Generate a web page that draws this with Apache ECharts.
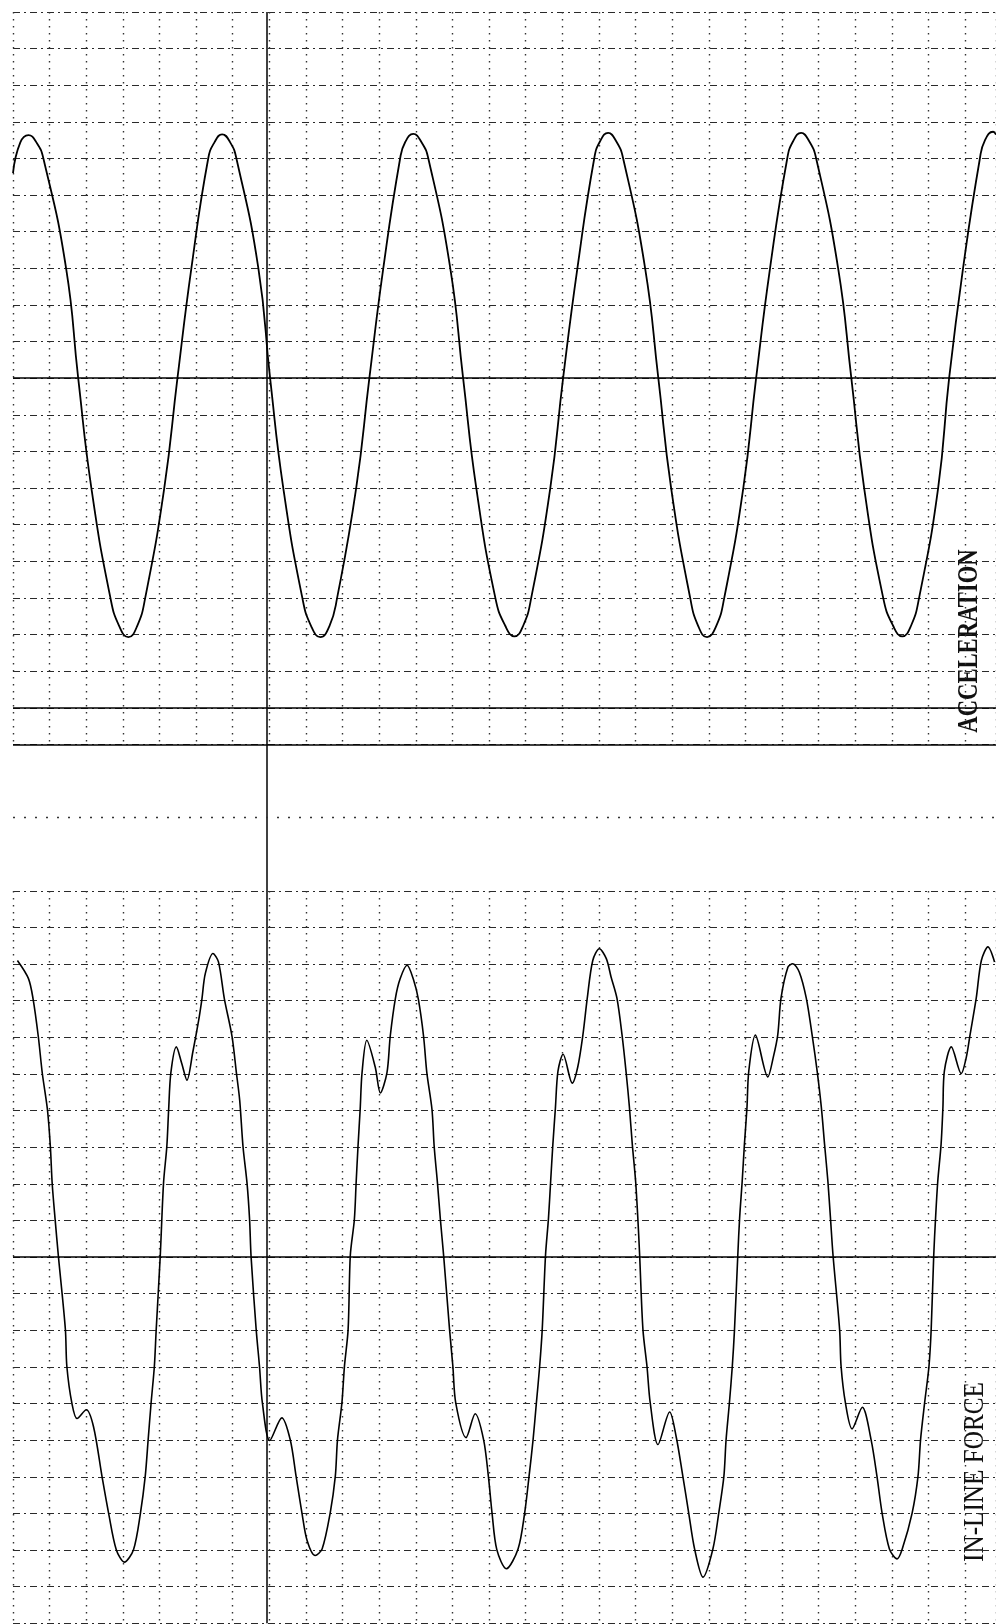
<!DOCTYPE html>
<html>
<head>
<meta charset="utf-8">
<script src="https://cdn.jsdelivr.net/npm/echarts@6/dist/echarts.min.js"></script>
<style>
  html, body { margin: 0; padding: 0; background: #fff; }
  #chart { width: 996px; height: 1624px; }
</style>
</head>
<body>
<div id="chart"></div>
<script>
// units: chart-paper divisions (one grid square)
const accelTime = [0, 0.20, 0.42, 0.64, 0.83, 1.45, 1.78, 2.14, 2.66, 2.90, 3.15, 3.39, 3.61, 4.13, 4.49, 4.87, 5.33, 5.50, 5.71,
  5.93, 6.10, 6.70, 7.02, 7.38, 7.90, 8.14, 8.39, 8.64, 8.85, 9.37, 9.73, 10.11, 10.57, 10.71, 10.93,
  11.15, 11.34, 11.94, 12.29, 12.65, 13.17, 13.44, 13.69, 13.93, 14.15, 14.67, 15.02, 15.41, 15.87, 16.03, 16.25,
  16.47, 16.66, 17.26, 17.62, 17.97, 18.49, 18.71, 18.95, 19.20, 19.42, 19.94, 20.29, 20.67, 21.14, 21.30, 21.52,
  21.74, 21.93, 22.53, 22.89, 23.24, 23.76, 24.03, 24.28, 24.52, 24.74, 25.26, 25.56, 25.94, 26.40, 26.54, 26.76, 26.84];
const accelValue = [5.6, 6.44, 6.64, 6.44, 6.0, 3.0, 0, -3.0, -6.0, -6.77, -7.07, -6.77, -6.0, -3.0, 0, 3.0, 6.0, 6.44, 6.66,
  6.44, 6.0, 3.0, 0, -3.0, -6.0, -6.77, -7.07, -6.77, -6.0, -3.0, 0, 3.0, 6.0, 6.45, 6.67,
  6.45, 6.0, 3.0, 0, -3.0, -6.0, -6.76, -7.05, -6.76, -6.0, -3.0, 0, 3.0, 6.0, 6.47, 6.70,
  6.47, 6.0, 3.0, 0, -3.0, -6.0, -6.77, -7.07, -6.77, -6.0, -3.0, 0, 3.0, 6.0, 6.47, 6.70,
  6.47, 6.0, 3.0, 0, -3.0, -6.0, -6.76, -7.05, -6.76, -6.0, -3.0, 0, 3.0, 6.0, 6.50, 6.73, 6.65];

const forceTime = [
  0.12, 0.42, 0.55, 0.69, 0.80, 0.94, 1.02, 1.07, 1.15, 1.24, 1.43, 1.47, 1.61, 1.75, 2.00, 2.20,
  2.43, 2.61, 2.82, 3.04, 3.29, 3.48, 3.61, 3.69, 3.77, 3.86, 3.91, 4.02, 4.11, 4.20, 4.25, 4.31,
  4.46, 4.61, 4.75, 4.91, 5.07, 5.16, 5.25, 5.46, 5.61, 5.77, 5.98, 6.10, 6.19, 6.28, 6.39, 6.46, 6.50,
  6.64, 6.73, 6.81, 7.01, 7.34, 7.57, 7.73, 7.89, 8.03, 8.25, 8.44, 8.66, 8.80, 8.86, 8.98, 9.05, 9.15,
  9.21, 9.32, 9.37, 9.42, 9.48, 9.53, 9.66, 9.89, 10.03, 10.21, 10.30, 10.44, 10.57, 10.76, 10.94,
  11.07, 11.21, 11.30, 11.44, 11.50, 11.59, 11.67, 11.76,
  11.92, 12.01, 12.09, 12.37, 12.62, 12.85, 12.98, 13.08, 13.21, 13.47, 13.79, 13.97, 14.09, 14.20,
  14.29, 14.38, 14.45, 14.54, 14.62, 14.68, 14.74, 14.81, 14.88, 15.02, 15.27, 15.42, 15.56, 15.68,
  15.83, 16.01, 16.20, 16.33, 16.49, 16.63, 16.74, 16.83, 16.91, 17.00, 17.06, 17.11,
  17.20, 17.31, 17.40, 17.61, 17.93, 18.11, 18.29, 18.45, 18.61, 18.84, 19.11, 19.27, 19.41, 19.47,
  19.56, 19.64, 19.70, 19.79, 19.84, 19.91, 19.97, 20.04, 20.09, 20.27, 20.61, 20.76, 20.88, 20.97,
  21.16, 21.29, 21.47, 21.66, 21.82, 21.96, 22.07, 22.16, 22.25, 22.32, 22.39,
  22.57, 22.61, 22.73, 22.91, 23.19, 23.43, 23.59, 23.73, 23.93, 24.14, 24.28, 24.55, 24.71, 24.78,
  24.89, 25.01, 25.07, 25.14, 25.19, 25.25, 25.34, 25.39, 25.43, 25.62, 25.89, 26.03, 26.13, 26.30,
  26.44, 26.62, 26.80];
const forceValue = [
  8.10, 7.61, 7.04, 6.03, 5.02, 4.03, 3.02, 2.01, 1.03, 0.02, -1.97, -2.98, -4.0, -4.41, -4.17, -4.64,
  -5.99, -6.99, -7.99, -8.33, -7.99, -6.99, -5.99, -4.99, -3.99, -2.98, -1.98, 0.02, 2.02, 3.02, 4.03, 5.03,
  5.74, 5.28, 4.83, 5.60, 6.47, 7.06, 7.74, 8.29, 8.06, 7.06, 6.03, 5.03, 4.28, 3.02, 2.02, 1.02, 0.02,
  -1.98, -2.98, -3.99, -5.01, -4.39, -4.99, -5.99, -6.99, -7.74, -8.15, -7.97, -6.99, -5.99, -4.99, -3.99, -2.98, -1.98,
  0.05, 1.02, 2.05, 3.02, 4.05, 5.03, 5.92, 5.19, 4.48, 5.03, 6.03, 7.06, 7.60, 7.97, 7.56,
  7.03, 6.03, 5.03, 4.03, 3.02, 2.02, 1.02, 0.02,
  -1.98, -2.98, -3.99, -4.93, -4.28, -4.99, -5.99, -6.99, -7.99, -8.51, -7.97, -6.99, -5.99, -4.99,
  -3.99, -2.98, -1.98, 0.05, 1.05, 2.07, 3.07, 4.07, 5.08, 5.54, 4.75, 5.19, 6.06, 7.07,
  8.10, 8.42, 8.15, 7.65, 7.07, 6.06, 5.05, 4.10, 3.07, 2.07, 1.07, 0.05,
  -1.98, -2.98, -3.99, -5.12, -4.23, -4.92, -5.99, -6.99, -7.97, -8.74, -7.97, -6.99, -5.99, -4.99,
  -3.99, -2.98, -1.98, 0.05, 1.07, 2.07, 3.07, 4.07, 5.08, 6.06, 4.92, 5.46, 6.06, 7.07,
  7.92, 8.01, 7.78, 7.07, 6.06, 5.05, 4.10, 3.07, 2.07, 1.07, 0.05,
  -1.98, -2.98, -3.99, -4.69, -4.10, -4.99, -5.99, -6.99, -7.97, -8.24, -7.97, -6.99, -5.99, -4.99,
  -3.99, -2.98, -1.98, 0.05, 1.07, 2.07, 3.07, 4.07, 5.08, 5.74, 5.01, 5.46, 6.06, 7.07,
  8.10, 8.47, 8.06];

// reference lines of the recorder paper (in divisions, counted from the top edge)
const timeMark = 6.93;
const heavyRows = [10, 19, 20, 34];
const sparseRow = 22;

const X_MAX = 26.84;
const DIV = 36.62;

const gridDash = { color: "#2a2a2a", width: 1, type: [7, 4, 2, 4] };
const gridDots = { color: "#333", width: 1.4, type: [1.5, 5.5] };

function zip(a, b) {
  return a.map((v, i) => [v, b[i]]);
}

const chart = echarts.init(document.getElementById("chart"), null, { renderer: "canvas" });

const xAxes = [0, 1, 2].map((i) => ({
  gridIndex: i,
  type: "value",
  min: 0,
  max: X_MAX,
  interval: 1,
  axisLine: { show: false },
  axisTick: { show: false },
  axisLabel: { show: false },
  splitLine: { show: i < 2, lineStyle: gridDots },
}));

const yAxes = [0, 1].map((i) => ({
  gridIndex: i,
  type: "value",
  min: -10,
  max: 10,
  interval: 1,
  axisLine: { show: false },
  axisTick: { show: false },
  axisLabel: { show: false },
  splitLine: { show: true, lineStyle: gridDash },
}));
yAxes.push({
  gridIndex: 2,
  type: "value",
  inverse: true,
  min: 0,
  max: 44,
  axisLine: { show: false },
  axisTick: { show: false },
  axisLabel: { show: false },
  splitLine: { show: false },
});

const option = {
  animation: false,
  backgroundColor: "#fff",
  grid: [
    { left: 13, right: 0, top: 12, height: 20 * DIV },
    { left: 13, right: 0, top: 12 + 24 * DIV, height: 20 * DIV },
    { left: 13, right: 0, top: 12, height: 44 * DIV },
  ],
  xAxis: xAxes,
  yAxis: yAxes,
  series: [
    {
      name: "ACCELERATION",
      type: "line",
      xAxisIndex: 0,
      yAxisIndex: 0,
      data: zip(accelTime, accelValue),
      smooth: 0.5,
      showSymbol: false,
      lineStyle: { color: "#000", width: 1.8 },
      z: 5,
    },
    {
      name: "IN-LINE FORCE",
      type: "line",
      xAxisIndex: 1,
      yAxisIndex: 1,
      data: zip(forceTime, forceValue),
      smooth: 0.3,
      showSymbol: false,
      lineStyle: { color: "#000", width: 1.6 },
      z: 5,
    },
    {
      type: "line",
      xAxisIndex: 2,
      yAxisIndex: 2,
      data: [],
      silent: true,
      markLine: {
        silent: true,
        symbol: ["none", "none"],
        label: { show: false },
        lineStyle: { color: "#000", width: 1.5, type: "solid" },
        data: [
          { xAxis: timeMark },
          ...heavyRows.map((r) => ({ yAxis: r })),
          { yAxis: sparseRow, lineStyle: { color: "#333", width: 1.3, type: [2, 9] } },
        ],
      },
    },
  ],
  graphic: [
    {
      type: "text",
      x: 969,
      y: 641,
      rotation: Math.PI / 2,
      scaleX: 0.755,
      style: {
        text: "ACCELERATION",
        fontFamily: "Liberation Serif",
        fontWeight: "bold",
        fontSize: 30,
        fill: "#111",
        align: "center",
        verticalAlign: "middle",
      },
    },
    {
      type: "text",
      x: 975,
      y: 1472,
      rotation: Math.PI / 2,
      scaleX: 0.84,
      style: {
        text: "IN-LINE FORCE",
        fontFamily: "Liberation Serif",
        fontSize: 30,
        fill: "#111",
        align: "center",
        verticalAlign: "middle",
      },
    },
  ],
};

chart.setOption(option);
</script>
</body>
</html>
